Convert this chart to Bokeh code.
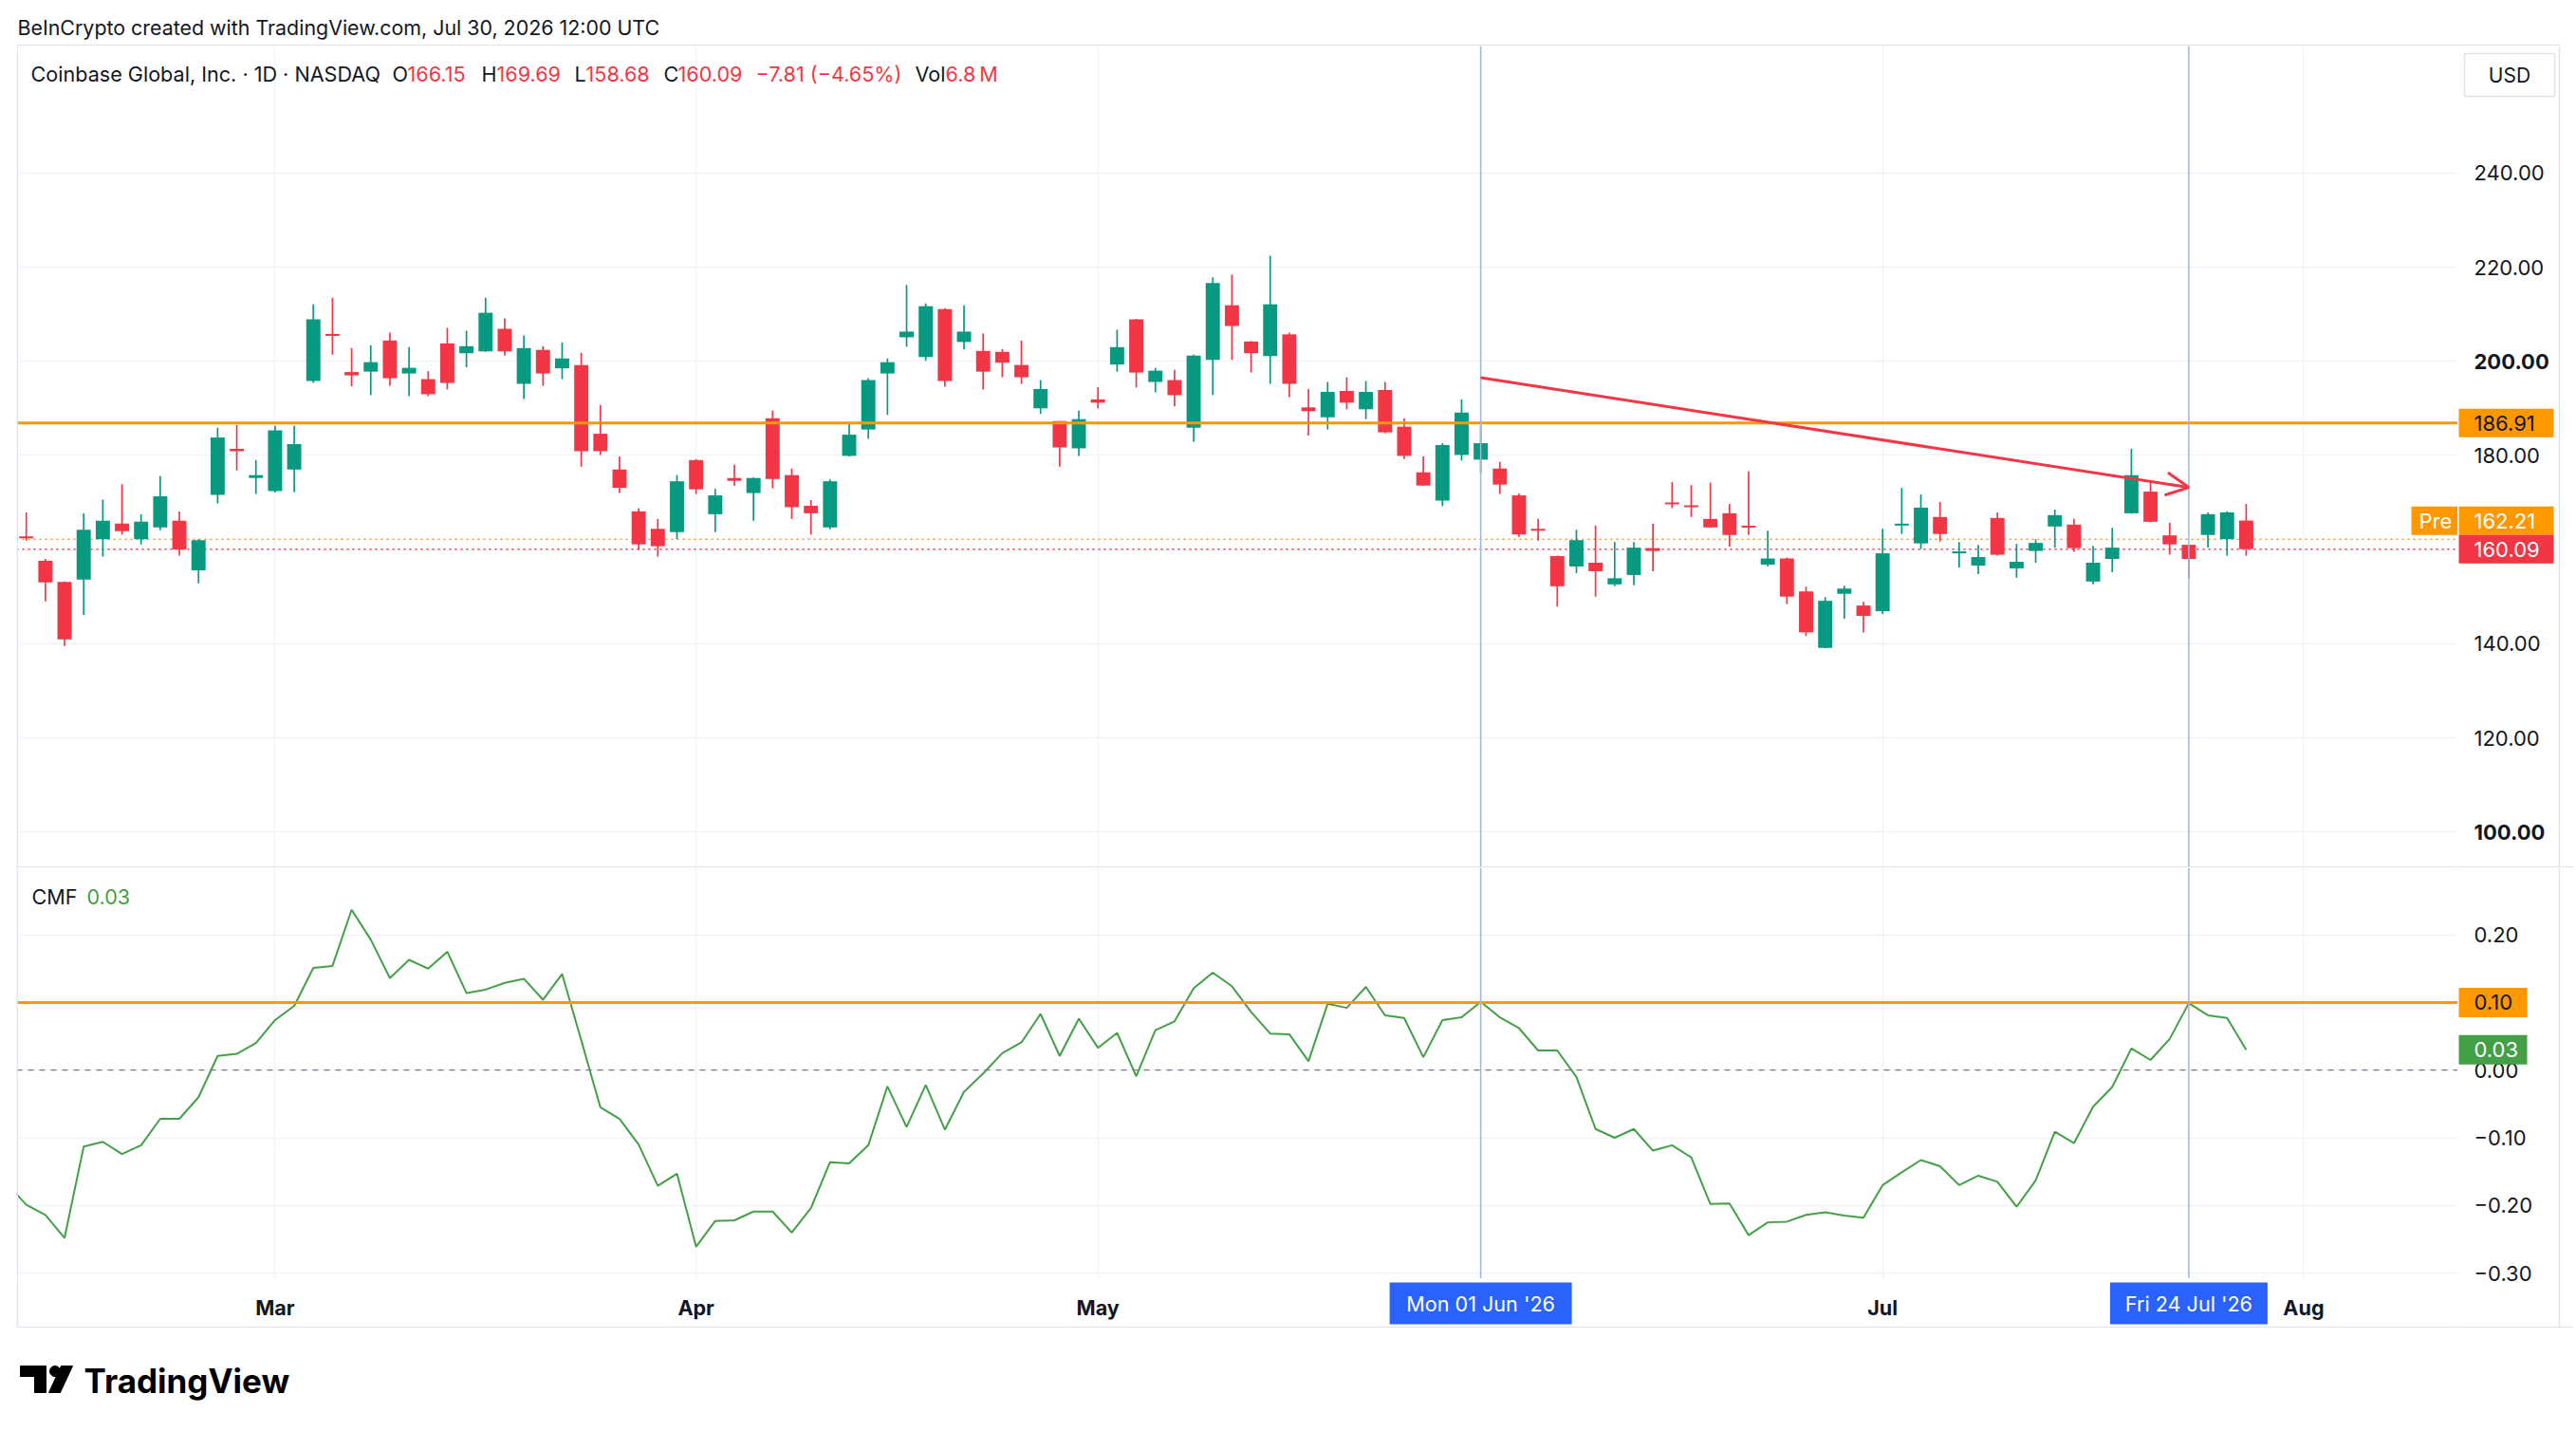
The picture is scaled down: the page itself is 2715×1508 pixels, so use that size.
import pandas as pd
from bokeh.plotting import figure
from bokeh.models import ColumnDataSource, Span, Arrow, OpenHead, FixedTicker, Range1d
from bokeh.layouts import column, row
from bokeh.embed import file_html
from bokeh.resources import INLINE
from bokeh.core.properties import value

# ---------------- data ----------------
HOLIDAYS = ["2026-02-16", "2026-04-03", "2026-05-25", "2026-06-19", "2026-07-03"]
CALENDAR = [d.strftime("%Y-%m-%d") for d in pd.bdate_range("2026-02-10", "2026-08-07")
            if d.strftime("%Y-%m-%d") not in HOLIDAYS]
N_BARS = 117
dates = CALENDAR[:N_BARS]

opens = [162.8, 157.6, 153.1, 153.6, 162.2, 165.5, 162.2, 164.7, 166.1, 155.6,
         171.6, 181.4, 175.2, 172.4, 177.0, 195.8, 205.8, 197.7, 197.8, 204.4,
         197.4, 196.2, 203.8, 201.7, 202.1, 206.9, 195.2, 202.4, 198.5, 199.2,
         184.6, 177.0, 168.1, 164.4, 163.7, 179.0, 167.5, 175.2, 172.0, 187.9,
         175.8, 169.3, 164.7, 179.9, 185.5, 197.4, 205.1, 200.9, 211.1, 204.1,
         202.2, 202.0, 199.2, 190.0, 187.3, 181.5, 191.9, 199.3, 208.9, 195.6,
         196.0, 185.9, 200.3, 211.9, 204.2, 201.1, 205.7, 190.2, 188.1, 193.7,
         189.8, 193.9, 186.1, 176.4, 170.4, 180.1, 179.1, 177.2, 171.5, 164.3,
         158.6, 156.4, 157.2, 152.6, 154.6, 160.3, 169.9, 169.3, 166.5, 167.7,
         164.9, 156.8, 158.1, 151.1, 139.1, 150.6, 148.1, 146.9, 165.1, 161.3,
         166.9, 159.3, 156.6, 166.7, 156.0, 159.7, 164.9, 165.3, 153.2, 158.0,
         167.7, 172.3, 163.0, 161.0, 163.1, 162.2, 166.15]
highs = [167.9, 158.0, 153.2, 167.7, 170.6, 173.9, 167.5, 175.6, 168.1, 162.2,
         185.9, 186.5, 179.0, 186.3, 186.3, 212.1, 213.5, 202.8, 203.4, 206.1,
         203.0, 197.9, 207.1, 206.5, 213.5, 209.1, 205.5, 203.2, 204.0, 201.8,
         190.7, 179.8, 168.8, 166.5, 175.8, 179.2, 172.9, 178.0, 175.3, 189.5,
         177.2, 170.5, 174.9, 187.1, 196.4, 200.6, 216.2, 212.3, 211.3, 211.9,
         205.9, 202.6, 204.4, 196.0, 187.3, 189.5, 194.5, 206.7, 209.0, 198.6,
         198.2, 201.4, 217.8, 218.4, 204.3, 222.4, 206.1, 194.1, 195.6, 196.6,
         195.8, 195.6, 187.9, 179.8, 182.6, 191.9, 186.5, 178.6, 171.9, 166.5,
         158.7, 164.2, 165.1, 161.6, 161.6, 165.5, 174.3, 173.7, 174.2, 169.7,
         176.6, 164.0, 158.3, 152.1, 149.9, 152.3, 148.9, 164.4, 173.1, 171.7,
         170.1, 161.6, 161.0, 167.9, 161.2, 162.2, 168.5, 166.5, 160.8, 164.6,
         181.4, 174.5, 165.7, 161.1, 167.9, 168.1, 169.69]
lows = [161.9, 149.0, 139.5, 146.1, 158.5, 163.2, 161.1, 164.1, 158.7, 152.8,
        169.8, 176.8, 171.8, 172.1, 172.2, 195.4, 201.4, 194.7, 192.8, 194.8,
        192.6, 192.6, 194.0, 198.7, 202.0, 201.2, 192.0, 194.8, 196.2, 177.6,
        180.1, 172.0, 159.9, 158.5, 162.2, 171.8, 163.7, 173.6, 166.1, 173.0,
        166.5, 163.2, 164.3, 179.8, 183.5, 188.6, 203.1, 200.1, 194.6, 202.5,
        194.0, 196.6, 195.2, 188.8, 177.6, 179.9, 190.0, 197.8, 194.4, 193.4,
        190.4, 182.9, 192.8, 200.3, 197.6, 195.2, 192.4, 184.2, 185.5, 189.8,
        187.7, 184.7, 179.2, 173.6, 169.2, 178.9, 176.2, 171.8, 162.7, 161.9,
        147.9, 155.0, 150.0, 152.2, 152.4, 155.4, 168.8, 166.9, 164.6, 160.6,
        163.1, 156.4, 148.4, 141.6, 139.0, 145.3, 142.4, 146.3, 163.3, 160.1,
        161.7, 156.2, 154.8, 158.7, 154.0, 157.2, 160.4, 159.5, 152.6, 155.2,
        167.6, 165.8, 158.9, 153.8, 160.4, 158.7, 158.68]
closes = [162.4, 153.0, 140.9, 164.2, 166.1, 163.9, 165.9, 171.3, 160.0, 162.0,
          183.8, 180.9, 175.8, 185.3, 182.4, 208.9, 205.4, 197.0, 199.8, 196.4,
          198.6, 193.0, 195.4, 203.2, 210.3, 202.1, 202.8, 197.4, 200.6, 180.9,
          180.9, 173.1, 161.1, 160.7, 174.5, 172.8, 171.5, 174.6, 175.2, 175.0,
          169.0, 167.7, 174.5, 184.4, 196.0, 199.8, 206.3, 211.7, 195.8, 206.3,
          197.8, 199.7, 196.6, 194.1, 181.7, 187.7, 191.2, 203.0, 197.6, 198.0,
          192.8, 201.2, 216.6, 207.5, 201.7, 212.1, 195.2, 189.4, 193.5, 191.2,
          193.5, 184.9, 179.9, 173.6, 182.2, 189.1, 182.6, 173.8, 163.2, 164.1,
          152.2, 162.0, 155.4, 153.9, 160.4, 159.7, 169.7, 169.1, 164.7, 163.1,
          164.8, 158.1, 150.0, 142.4, 149.1, 151.7, 145.9, 159.2, 165.5, 168.9,
          163.3, 159.5, 158.4, 158.9, 157.4, 161.4, 167.3, 160.3, 157.2, 160.4,
          175.8, 165.9, 161.1, 158.0, 167.5, 167.9, 160.09]
volume_label = "6.8\u202fM"

cmf_prev = -0.168  # bar just before the first visible one
cmf = [-0.199, -0.214, -0.248, -0.113, -0.106, -0.124, -0.111, -0.072, -0.072, -0.040,
       0.021, 0.024, 0.040, 0.074, 0.095, 0.151, 0.154, 0.237, 0.193, 0.136,
       0.163, 0.150, 0.175, 0.114, 0.119, 0.129, 0.135, 0.104, 0.142, 0.044,
       -0.055, -0.072, -0.110, -0.171, -0.153, -0.261, -0.223, -0.222, -0.209, -0.209,
       -0.240, -0.204, -0.136, -0.138, -0.111, -0.024, -0.084, -0.022, -0.088, -0.032,
       -0.005, 0.025, 0.041, 0.083, 0.021, 0.076, 0.033, 0.055, -0.009, 0.059,
       0.072, 0.121, 0.144, 0.124, 0.086, 0.054, 0.053, 0.013, 0.098, 0.092,
       0.123, 0.081, 0.077, 0.019, 0.074, 0.078, 0.101, 0.078, 0.062, 0.029,
       0.029, -0.010, -0.087, -0.100, -0.087, -0.119, -0.111, -0.129, -0.198, -0.197,
       -0.244, -0.225, -0.224, -0.214, -0.210, -0.215, -0.218, -0.170, -0.151, -0.133,
       -0.142, -0.170, -0.156, -0.165, -0.202, -0.163, -0.091, -0.108, -0.054, -0.025,
       0.032, 0.015, 0.046, 0.099, 0.081, 0.077, 0.030]

month_labels = ["Mar", "Apr", "May", "Jul", "Aug"]
month_keys = ["2026-03", "2026-04", "2026-05", "2026-07", "2026-08"]
grid_month_keys = ["2026-03", "2026-04", "2026-05", "2026-06", "2026-07", "2026-08"]
price_ticks = [100, 120, 140, 180, 200, 220, 240]
price_tick_styles = ["bold", "normal", "normal", "normal", "bold", "normal", "normal"]
price_grid = [100, 120, 140, 160, 180, 200, 220, 240]
cmf_ticks = [-0.3, -0.2, -0.1, 0.0, 0.1, 0.2]
cmf_tick_labels = ["\u22120.30", "\u22120.20", "\u22120.10", "0.00", "0.10", "0.20"]
level_price = 186.91
level_cmf = 0.10
pre_price = 162.21
crosshair_dates = ["2026-06-01", "2026-07-24"]
crosshair_labels = ["Mon 01 Jun '26", "Fri 24 Jul '26"]
trend_start = ("2026-06-01", 196.5)
trend_end = ("2026-07-24", 173.2)

# ---------------- style / geometry (picture pixels) ----------------
FONT = "Inter"
TEXT = "#131722"
UP = "#089981"
DOWN = "#F23645"
ORANGE = "#FF9800"
CMF_GREEN = "#43A047"
GRID = "#F0F3FA"
BORDER = "#E0E3EB"
CROSS = "#A3B6E2"
BLUE = "#2962FF"
CROSS_BOX_HALF_PX = [96, 83]

W_TOTAL = 2712
FRAME_L, FRAME_R, BOX_R = 17, 2590, 2697
W_SCALE = W_TOTAL - FRAME_R
BAR0, BAR_PX = 27.2, 20.17
X0 = (FRAME_L - BAR0) / BAR_PX
X1 = (FRAME_R - BAR0) / BAR_PX
P_TOP, P_BOT = 48, 914
REF_P, REF_PX, PX_PER_USD = 240.0, 181.8, 4.96
Y1 = REF_P + (REF_PX - P_TOP) / PX_PER_USD
Y0 = REF_P - (P_BOT - REF_PX) / PX_PER_USD
C_TOP, C_BOT, C_FOOT = 914, 1347, 1399
ZERO_PX, PX_PER_CMF = 1127.2, 713.0
C1 = (ZERO_PX - C_TOP) / PX_PER_CMF
C0 = -(C_BOT - ZERO_PX) / PX_PER_CMF
C0_EXT = -(C_FOOT - ZERO_PX) / PX_PER_CMF
FOOT_H = 100


def px_x(img_x):
    return X0 + (img_x - FRAME_L) / BAR_PX


def px_y(img_y):
    return Y1 - (img_y - P_TOP) / PX_PER_USD


def y_px(price):
    return P_TOP + (Y1 - price) * PX_PER_USD


def cpx_y(img_y):
    return C1 - (img_y - C_TOP) / PX_PER_CMF


idx = {d: i for i, d in enumerate(CALENDAR)}


def first_of(key):
    return next(i for i, d in enumerate(CALENDAR) if d.startswith(key))


def base_fig(width, height, xr, yr, left=0):
    f = figure(width=width, height=height, x_range=xr, y_range=yr,
               x_axis_location=None, y_axis_location=None,
               min_border=0, min_border_left=left, toolbar_location=None,
               outline_line_color=None, output_backend="svg")
    f.grid.visible = False
    return f


def txt(f, xs, ys, texts, color=TEXT, size="22px", align="left",
        baseline="middle", style="normal"):
    f.text(x=xs, y=ys, text=texts, text_color=color, text_font=value(FONT),
           text_font_size=value(size), text_align=align, text_baseline=baseline,
           text_font_style=style)


x_range = Range1d(X0, X1)
price_range = Range1d(Y0, Y1)
cmf_range = Range1d(C0, C1)

# ---------------- header ----------------
head = base_fig(W_TOTAL, P_TOP, Range1d(0, W_TOTAL), Range1d(0, P_TOP))
txt(head, [18], [P_TOP - 28], ["BeInCrypto created with TradingView.com, Jul 30, 2026 12:00 UTC"],
    size="21.4px")
head.segment(x0=[FRAME_L], y0=[0.75], x1=[BOX_R], y1=[0.75], line_color=BORDER, line_width=1.5)

# ---------------- price pane ----------------
pm = base_fig(FRAME_R, P_BOT - P_TOP, x_range, price_range, left=FRAME_L)
pm.grid.visible = True
pm.xgrid.ticker = FixedTicker(ticks=[first_of(k) for k in grid_month_keys])
pm.ygrid.ticker = FixedTicker(ticks=price_grid)
pm.grid.grid_line_color = GRID
pm.grid.grid_line_width = 1.5

pm.add_layout(Span(location=pre_price, dimension="width", line_color=ORANGE,
                   line_dash="2 4", line_width=1.5, level="underlay"))
pm.add_layout(Span(location=closes[-1], dimension="width", line_color=DOWN,
                   line_dash="2 4", line_width=1.5, level="underlay"))

body_top, body_bot, colors = [], [], []
for o, c in zip(opens, closes):
    t, b = max(o, c), min(o, c)
    if t - b < 0.4:
        m = (t + b) / 2
        t, b = m + 0.2, m - 0.2
    body_top.append(t)
    body_bot.append(b)
    colors.append(UP if c >= o else DOWN)

src = ColumnDataSource(dict(x=list(range(N_BARS)), date=dates, open=opens, high=highs,
                            low=lows, close=closes, top=body_top, bottom=body_bot, color=colors))
pm.segment(x0="x", y0="low", x1="x", y1="high", line_color="color", line_width=1.7, source=src)
pm.vbar(x="x", width=0.74, top="top", bottom="bottom", fill_color="color",
        line_color=None, source=src)

pm.add_layout(Span(location=level_price, dimension="width", line_color=ORANGE, line_width=3))
for d in crosshair_dates:
    pm.add_layout(Span(location=idx[d], dimension="height", line_color=CROSS, line_width=1.5))
pm.add_layout(Arrow(end=OpenHead(size=24, line_color=DOWN, line_width=3),
                    x_start=idx[trend_start[0]], y_start=trend_start[1],
                    x_end=idx[trend_end[0]], y_end=trend_end[1],
                    line_color=DOWN, line_width=3))

pm.add_layout(Span(location=px_x(FRAME_L + 0.75), dimension="height", line_color=BORDER, line_width=1.5))
pm.add_layout(Span(location=px_y(P_BOT - 0.75), dimension="width", line_color=BORDER, line_width=1.5))

# legend line
chg = closes[-1] - closes[-2]
pct = chg / closes[-2] * 100
legend_parts = [
    ("Coinbase Global, Inc. \u00b7 1D \u00b7 NASDAQ", 32, TEXT),
    ("O", 413, TEXT), (f"{opens[-1]:.2f}", 429, DOWN),
    ("H", 507, TEXT), (f"{highs[-1]:.2f}", 523, DOWN),
    ("L", 605, TEXT), (f"{lows[-1]:.2f}", 617, DOWN),
    ("C", 699, TEXT), (f"{closes[-1]:.2f}", 714, DOWN),
    (f"\u2212{abs(chg):.2f} (\u2212{abs(pct):.2f}%)", 796, DOWN),
    ("Vol", 964, TEXT), (volume_label, 996, DOWN),
]
txt(pm, [px_x(xp) for _, xp, _ in legend_parts], [px_y(77)] * len(legend_parts),
    [s for s, _, _ in legend_parts], color=[c for _, _, c in legend_parts], size="21.6px")

tag_h = 15 / PX_PER_USD
pre_y = px_y(y_px(closes[-1]) - 30)
pm.quad(left=[px_x(2541)], right=[px_x(FRAME_R)], top=[pre_y + tag_h], bottom=[pre_y - tag_h],
        fill_color=ORANGE, line_color=None)
txt(pm, [px_x(2549)], [pre_y], ["Pre"], color="white")

# ---------------- price scale ----------------
ps = base_fig(W_SCALE, P_BOT - P_TOP, Range1d(0, W_SCALE), price_range)
ps.add_layout(Span(location=BOX_R - FRAME_R, dimension="height", line_color=BORDER, line_width=1.5))
ps.add_layout(Span(location=px_y(P_BOT - 0.75), dimension="width", line_color=BORDER, line_width=1.5))
tick_src = ColumnDataSource(dict(x=[17] * len(price_ticks), y=price_ticks,
                                 t=[f"{v:.2f}" for v in price_ticks], s=price_tick_styles))
ps.text(x="x", y="y", text="t", text_font_style="s", source=tick_src, text_color=TEXT,
        text_font=value(FONT), text_font_size=value("22px"), text_baseline="middle")
tags = [(level_price, f"{level_price:.2f}", ORANGE, TEXT),
        (pre_y, f"{pre_price:.2f}", ORANGE, "white"),
        (closes[-1], f"{closes[-1]:.2f}", DOWN, "white")]
ps.quad(left=[1] * 3, right=[101] * 3, top=[v + tag_h for v, _, _, _ in tags],
        bottom=[v - tag_h for v, _, _, _ in tags], fill_color=[c for _, _, c, _ in tags],
        line_color=None)
txt(ps, [17] * 3, [v for v, _, _, _ in tags], [t for _, t, _, _ in tags],
    color=[f for _, _, _, f in tags])
ps.quad(left=[7], right=[102], top=[px_y(56)], bottom=[px_y(101)], fill_color="white",
        line_color=BORDER, line_width=1.5)
txt(ps, [54.5], [px_y(78.5)], ["USD"], size="21px", align="center")

# ---------------- CMF pane ----------------
qm = base_fig(FRAME_R, C_BOT - C_TOP, x_range, cmf_range, left=FRAME_L)
qm.grid.visible = True
qm.xgrid.ticker = FixedTicker(ticks=[first_of(k) for k in grid_month_keys])
qm.ygrid.ticker = FixedTicker(ticks=cmf_ticks)
qm.grid.grid_line_color = GRID
qm.grid.grid_line_width = 1.5
qm.add_layout(Span(location=0.0, dimension="width", line_color="#787B86",
                   line_dash="6 6", line_width=1.2))
qm.add_layout(Span(location=level_cmf, dimension="width", line_color=ORANGE, line_width=3))
for d in crosshair_dates:
    qm.add_layout(Span(location=idx[d], dimension="height", line_color=CROSS, line_width=1.5))
qm.add_layout(Span(location=px_x(FRAME_L + 0.75), dimension="height", line_color=BORDER, line_width=1.5))

csrc = ColumnDataSource(dict(x=[-1] + list(range(N_BARS)), v=[cmf_prev] + cmf))
qm.line(x="x", y="v", line_color=CMF_GREEN, line_width=2, source=csrc)
txt(qm, [px_x(33)], [cpx_y(944)], ["CMF"], size="21.6px")
txt(qm, [px_x(91)], [cpx_y(944)], [f"{cmf[-1]:.2f}"], color=CMF_GREEN, size="21.6px")

# ---------------- CMF scale (extends down through the time-scale band) ----------------
qs = base_fig(W_SCALE, C_FOOT - C_TOP, Range1d(0, W_SCALE), Range1d(C0_EXT, C1))
qs.add_layout(Span(location=BOX_R - FRAME_R, dimension="height", line_color=BORDER, line_width=1.5))
qs.add_layout(Span(location=C0_EXT + 0.75 / PX_PER_CMF, dimension="width",
                   line_color=BORDER, line_width=1.5))
txt(qs, [17] * len(cmf_ticks), cmf_ticks, cmf_tick_labels)
ctag_h = 15.5 / PX_PER_CMF
ctags = [(level_cmf, ORANGE, TEXT), (cmf[-1], CMF_GREEN, "white")]
qs.quad(left=[1, 1], right=[73, 73], top=[v + ctag_h for v, _, _ in ctags],
        bottom=[v - ctag_h for v, _, _ in ctags], fill_color=[c for _, c, _ in ctags],
        line_color=None)
txt(qs, [17, 17], [v for v, _, _ in ctags], [f"{v:.2f}" for v, _, _ in ctags],
    color=[f for _, _, f in ctags])

# ---------------- time scale ----------------
T_H = C_FOOT - C_BOT
tm = base_fig(FRAME_R, T_H, x_range, Range1d(0, T_H), left=FRAME_L)
tm.add_layout(Span(location=px_x(FRAME_L + 0.75), dimension="height", line_color=BORDER, line_width=1.5))
tm.add_layout(Span(location=0.75, dimension="width", line_color=BORDER, line_width=1.5))
txt(tm, [first_of(k) for k in month_keys], [C_FOOT - 1377] * len(month_keys), month_labels,
    align="center", style="bold", size="21.6px")
tm.quad(left=[idx[d] - h / BAR_PX for d, h in zip(crosshair_dates, CROSS_BOX_HALF_PX)],
        right=[idx[d] + h / BAR_PX for d, h in zip(crosshair_dates, CROSS_BOX_HALF_PX)],
        top=[C_FOOT - 1351] * 2, bottom=[C_FOOT - 1395] * 2, fill_color=BLUE, line_color=None)
txt(tm, [idx[d] for d in crosshair_dates], [C_FOOT - 1373] * 2, crosshair_labels,
    color="white", align="center", size="21.6px")

# ---------------- footer ----------------
foot = base_fig(W_TOTAL, FOOT_H, Range1d(0, W_TOTAL), Range1d(0, FOOT_H))


def fy(img_y):
    return C_FOOT + FOOT_H - img_y


foot.patch([21, 48, 48, 36, 36, 21], [fy(v) for v in [1439, 1439, 1467, 1467, 1450, 1450]],
           color="#000000")
foot.scatter([57.5], [fy(1444.5)], size=11, color="#000000")
foot.patch([64, 76, 63, 51], [fy(v) for v in [1439, 1439, 1467, 1467]], color="#000000")
txt(foot, [88], [fy(1454)], ["TradingView"], color="#000000", size="35px", style="bold")

layout = column(head,
                row(column(pm, qm, tm), column(ps, qs)),
                foot)
open("out.html", "w").write(file_html(layout, INLINE))
